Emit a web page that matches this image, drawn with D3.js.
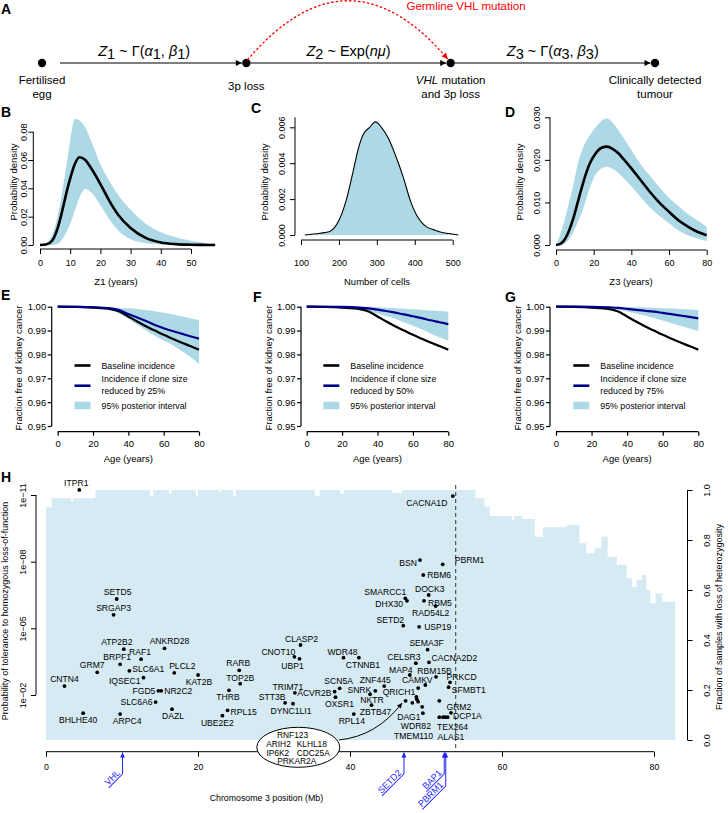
<!DOCTYPE html>
<html><head><meta charset="utf-8">
<script src="https://cdn.jsdelivr.net/npm/d3@7/dist/d3.min.js"></script>
<style>html,body{margin:0;padding:0;background:#fff;}svg{display:block;}</style>
</head><body>
<svg id="chart" width="728" height="813" xmlns="http://www.w3.org/2000/svg"></svg>
<script>
// ======================= DATA =======================
// Panel A
const stageLabels = [["Fertilised","egg"],["3p loss"],["VHL mutation","and 3p loss"],["Clinically detected","tumour"]];
const transitionLabels = [
  [["Z",1,0],["1",0,1],[" ~ Γ(",0,0],["α",1,0],["1",0,1],[", ",0,0],["β",1,0],["1",0,1],[")",0,0]],
  [["Z",1,0],["2",0,1],[" ~ Exp(",0,0],["nμ",1,0],[")",0,0]],
  [["Z",1,0],["3",0,1],[" ~ Γ(",0,0],["α",1,0],["3",0,1],[", ",0,0],["β",1,0],["3",0,1],[")",0,0]]
];
const germlineLabel = "Germline VHL mutation";

// Panel B : Z1 density
const bZ1Years = [0,2,4,6,7,8,9,10,11.5,13,15,17,20,23,26,30,35,40,45,50,55,58];
const bMean  = [0,0.0003,0.003,0.013,0.021,0.030,0.039,0.047,0.057,0.062,0.060,0.054,0.043,0.031,0.021,0.012,0.005,0.0018,0.0006,0.0002,0.00005,0];
const bUpper = [0,0.001,0.007,0.022,0.033,0.046,0.060,0.074,0.089,0.088,0.083,0.073,0.057,0.045,0.035,0.025,0.015,0.009,0.0055,0.003,0.0015,0.001];
const bLower = [0,0,0,0.001,0.003,0.006,0.010,0.015,0.024,0.033,0.0395,0.037,0.028,0.018,0.010,0.004,0.0012,0.0003,0.0001,0,0,0];
const bTicksX = [0,10,20,30,40,50];
const bTicksY = [0,0.02,0.04,0.06,0.08];

// Panel C : number of cells density
const cCells   = [110,150,176,202,220,237,251,264,281,296,312,330,348,370,387,405,418,431,449,470,490,515];
const cDensity = [0,0.0001,0.0002,0.0009,0.002,0.0035,0.0048,0.0056,0.0060,0.0063,0.0060,0.0054,0.0045,0.0032,0.0020,0.0011,0.0007,0.00045,0.0003,0.00015,0.00008,0];
const cTicksX = [100,200,300,400,500];
const cTicksY = [0,0.002,0.004,0.006];

// Panel D : Z3 density
const dZ3Years = [0,2,4,6,9,12,15,18,21,24,27,30,33,36,40,45,50,55,60,65,70,75,80];
const dMean  = [0,0.0002,0.0009,0.0024,0.006,0.0108,0.0155,0.0192,0.0215,0.0228,0.0231,0.0226,0.0216,0.0201,0.018,0.0152,0.0124,0.0099,0.0078,0.0058,0.0043,0.0031,0.0023];
const dUpper = [0,0.0022,0.005,0.0083,0.0138,0.0198,0.0235,0.0258,0.0276,0.0291,0.0297,0.0288,0.0271,0.0251,0.0223,0.0189,0.0162,0.0135,0.0111,0.0091,0.0073,0.0058,0.0043];
const dLower = [0,0,0.0002,0.0009,0.0029,0.0058,0.0093,0.0135,0.0165,0.018,0.0184,0.0179,0.017,0.0157,0.0138,0.0112,0.0088,0.0068,0.0051,0.0034,0.0023,0.0015,0.0009];
const dTicksX = [0,20,40,60,80];
const dTicksY = [0,0.01,0.02,0.03];

// Panels E-G : fraction free of kidney cancer
const ageYears     = [0,10,20,30,35,40,45,50,55,60,65,70,75,80];
const baselineFree = [1,0.9999,0.9996,0.999,0.998,0.9959,0.9938,0.9918,0.99,0.9882,0.9866,0.985,0.9835,0.982];
const eReduced = [1,0.99995,0.9998,0.9993,0.9985,0.9969,0.9955,0.994,0.9923,0.991,0.9898,0.9887,0.9876,0.9866];
const eUpper   = [1,1,0.99995,0.9997,0.9995,0.9993,0.999,0.9986,0.9981,0.9975,0.9968,0.996,0.9952,0.9944];
const eLower   = [1,0.99995,0.9995,0.9985,0.997,0.995,0.9925,0.990,0.9878,0.9858,0.984,0.9815,0.979,0.976];
const fReduced = [1,0.99998,0.9999,0.9996,0.9993,0.9988,0.9982,0.9975,0.9968,0.996,0.9952,0.9943,0.9935,0.9927];
const fUpper   = [1,1,1,0.99995,0.9999,0.9998,0.9996,0.9994,0.9991,0.9989,0.9986,0.9984,0.9982,0.9979];
const fLower   = [1,0.99998,0.9997,0.999,0.998,0.997,0.996,0.995,0.9935,0.992,0.9905,0.9888,0.9872,0.9857];
const gReduced = [1,0.99999,0.99995,0.9997,0.9995,0.9991,0.9987,0.9983,0.9979,0.9974,0.9969,0.9963,0.9957,0.9951];
const gUpper   = [1,1,1,1,0.99995,0.9999,0.9998,0.9997,0.9996,0.9994,0.9992,0.999,0.9988,0.9986];
const gLower   = [1,0.99999,0.9998,0.9994,0.9988,0.998,0.9972,0.9963,0.9953,0.9942,0.9931,0.992,0.9909,0.9898];
const reductionLabels = ["25%","50%","75%"];
const ageTicks = [0,20,40,60,80];
const freeTicks = [0.95,0.96,0.97,0.98,0.99,1.00];

// Panel H : LOH fraction along chr3 (step starts, Mb) and tolerance probabilities
const lohStartMb = [0,0.75,3.3,3.6,6.5,13.7,14.1,16.2,16.5,19.7,20.0,22.8,23.0,24.6,25.0,35.4,36.0,38.7,39.2,45.5,46.8,56.5,57.7,58.4,61.3,61.6,62.7,64.3,65.4,68.5,70.2,71.1,72.2,73.1,73.9,75.1,76.4,77.1,77.7,78.4,79.0,79.5,80.2,81.1];
const lohFraction = [0.931,0.967,0.955,0.967,1.0,0.975,1.0,0.985,1.0,0.975,1.0,0.99,1.0,0.975,1.0,0.975,1.0,0.985,1.0,0.988,1.0,0.967,0.933,0.896,0.88,0.896,0.884,0.813,0.851,0.86,0.787,0.747,0.767,0.813,0.733,0.70,0.647,0.613,0.64,0.66,0.60,0.547,0.587,0.553];
const lohEndMb = 82.8;
const boundaryMb = 53.9;

const geneNames = ["ITPR1","CNTN4","BHLHE40","GRM7","SRGAP3","SETD5","BRPF1","ARPC4","ATP2B2","SLC6A1","RAF1","IQSEC1","SLC6A6","FGD5","NR2C2","ANKRD28","DAZL","PLCL2","KAT2B","UBE2E2","RPL15","THRB","RARB","TOP2B","STT3B","DYNC1LI1","CNOT10","TRIM71","UBP1","CLASP2","ACVR2B","OXSR1","SCN5A","WDR48","RPL14","CTNNB1","NKTR","ZBTB47","SNRK","ZNF445","SETD2","SMARCC1","DHX30","MAP4","CELSR3","QRICH1","USP19","BSN","DAG1","RBM6","RBM5","CAMKV","SEMA3F","DOCK3","CACNA2D2","RAD54L2","RBM15B","GRM2","WDR82","PBRM1","TEX264","TMEM110","ALAS1","SFMBT1","PRKCD","DCP1A","CACNA1D"];
const geneMb = [4.38,2.43,4.89,6.74,8.89,9.30,9.75,9.75,10.24,10.97,12.51,12.83,14.42,14.79,15.16,15.59,16.58,16.88,20.01,23.21,23.89,24.08,25.43,25.55,31.46,32.50,32.68,32.75,33.36,33.49,37.97,38.09,38.64,39.14,40.50,41.17,42.64,42.83,43.33,44.50,47.01,47.28,47.50,47.87,48.67,48.97,49.10,49.21,49.59,49.64,49.74,49.91,50.21,50.36,50.39,51.28,51.32,51.75,51.75,52.20,52.24,52.50,52.84,52.97,53.16,53.29,53.53];
const geneLog10P = [-11.23,-2.40,-1.18,-3.02,-5.61,-6.32,-3.38,-1.14,-4.06,-3.09,-3.61,-2.78,-1.68,-2.19,-2.19,-4.10,-1.36,-3.00,-2.90,-1.07,-1.31,-2.21,-3.11,-2.51,-1.65,-1.61,-3.72,-2.10,-3.63,-4.25,-2.15,-1.90,-2.30,-3.68,-1.14,-3.68,-2.03,-1.54,-2.19,-2.40,-5.12,-6.35,-6.24,-2.90,-3.43,-2.31,-5.07,-8.07,-1.18,-7.40,-6.24,-2.45,-4.04,-6.50,-3.47,-6.00,-2.82,-1.74,-1.00,-7.88,-1.00,-1.00,-1.00,-2.35,-2.57,-1.20,-10.95];
const clusterNames = ["KLHL18","CDC25A","IP6K2","PRKAR2A","ARIH2","RNF123"];
const clusterMb = [47.32,48.2,48.73,48.79,48.96,49.5];
const clusterLog10P = [-1.74,-1.65,-1.92,-1.81,-1.70,-1.47];
const driverGenes = ["VHL","SETD2","BAP1","PBRM1"];
const driverMb = [10.07,47.1,52.4,52.6];
const chrTicks = [0,20,40,60,80];
const tolTicks = [1e-11,1e-8,1e-5,1e-2];
const lohTicks = [0,0.2,0.4,0.6,0.8,1.0];

// ---- layout-only: label offsets (dx, dy, anchor) for gene names ----
const labelPlace = {ITPR1:[-3,-7,"m"],CNTN4:[0,-7,"m"],BHLHE40:[-5,7,"m"],GRM7:[-5,-7,"m"],SRGAP3:[0,-7,"m"],SETD5:[1,-7,"m"],BRPF1:[-3,-7,"m"],ARPC4:[7,7,"m"],ATP2B2:[-7,-7,"m"],SLC6A1:[3,-2,"s"],RAF1:[-1,-7,"m"],IQSEC1:[-3,3,"e"],SLC6A6:[-3,0,"e"],FGD5:[-3,0,"e"],NR2C2:[3,0,"s"],ANKRD28:[5,-7,"m"],DAZL:[1,7,"m"],PLCL2:[8,-7,"m"],KAT2B:[1,7,"m"],UBE2E2:[-5,7,"m"],RPL15:[3,2,"s"],THRB:[-1,7,"m"],RARB:[-1,-7,"m"],TOP2B:[0,-6,"m"],STT3B:[-13,-6,"m"],DYNC1LI1:[-2,7,"m"],CNOT10:[-16,-5,"m"],TRIM71:[-7,-6,"m"],UBP1:[-7,7,"m"],CLASP2:[1,-6,"m"],ACVR2B:[-3,1,"e"],OXSR1:[4,7,"m"],SCN5A:[-1,-7,"m"],WDR48:[-1,-6,"m"],RPL14:[-2,7,"m"],CTNNB1:[4,7,"m"],NKTR:[2,6,"m"],ZBTB47:[4,7,"m"],SNRK:[-4,-1,"e"],ZNF445:[-9,-6,"m"],SETD2:[-13,-6,"m"],SMARCC1:[-20,-6,"m"],DHX30:[-4,3,"e"],MAP4:[-9,-5,"m"],CELSR3:[-12,-6,"m"],QRICH1:[-3,4,"e"],USP19:[5,0,"s"],BSN:[-3,3,"e"],DAG1:[-14,4,"m"],RBM6:[4,0,"s"],RBM5:[4,2,"s"],CAMKV:[-8,-5,"m"],SEMA3F:[-1,-7,"m"],DOCK3:[1,-6,"m"],CACNA2D2:[2.5,-4,"s"],RAD54L2:[-5,7,"m"],RBM15B:[-1.5,-6,"m"],GRM2:[19.6,6,"m"],WDR82:[-23.4,8.6,"m"],PBRM1:[12,-4,"s"],TEX264:[9.5,9.8,"m"],TMEM110:[-31.5,18.6,"m"],ALAS1:[3.4,19.6,"m"],SFMBT1:[3.3,3,"s"],PRKCD:[11.6,-5,"m"],DCP1A:[2,3.6,"s"],CACNA1D:[-26,7,"m"]};

// ======================= DRAWING =======================
const FONT = "'Liberation Sans', Arial, Helvetica, sans-serif";
const BAND = "#add8e6", NAVY = "#00008b", BG = "#d6eaf3", BLUE = "#2323ff";
const svg = d3.select("#chart").attr("font-family", FONT);
svg.append("rect").attr("width",728).attr("height",813).attr("fill","#fff");
const defs = svg.append("defs");
function marker(id,color,w,h){
  defs.append("marker").attr("id",id).attr("viewBox","0 0 10 10").attr("refX",10).attr("refY",5)
    .attr("markerWidth",w).attr("markerHeight",h).attr("markerUnits","userSpaceOnUse").attr("orient","auto")
    .append("path").attr("d","M0,0L10,5L0,10z").attr("fill",color);
}
marker("ahK","#000",8,6); marker("ahR","#f00",8,6); marker("ahB",BLUE,6,5); marker("ahK2","#000",7,5);

function panelLabel(t,x,y){ svg.append("text").attr("x",x).attr("y",y).attr("font-size",14).attr("font-weight","bold").text(t); }
function styleAxis(a,fs){ a.attr("font-family",FONT).attr("font-size",fs); a.selectAll("text").attr("fill","#000"); a.selectAll("line").attr("stroke","#000"); }
function rAxisBottom(scale,ticks,y,fmt,labelY,fs,w){
  const a = svg.append("g").attr("transform",`translate(0,${y})`)
    .call(d3.axisBottom(scale).tickValues(ticks).tickFormat(fmt).tickSize(5).tickSizeOuter(0));
  a.select(".domain").remove();
  a.append("line").attr("x1",scale(ticks[0])).attr("x2",scale(ticks[ticks.length-1])).attr("stroke","#000");
  styleAxis(a,fs||9);
  a.selectAll("line").attr("stroke-width",w||1);
  a.selectAll("text").attr("y",labelY).attr("dy","0.35em");
  return a;
}
function rAxisVert(scale,ticks,x,fmt,off,right,fs){
  const ax = (right?d3.axisRight:d3.axisLeft)(scale).tickValues(ticks).tickFormat(fmt).tickSize(5).tickSizeOuter(0);
  const a = svg.append("g").attr("transform",`translate(${x},0)`).call(ax);
  a.select(".domain").remove();
  a.append("line").attr("y1",scale(ticks[0])).attr("y2",scale(ticks[ticks.length-1])).attr("stroke","#000");
  styleAxis(a,fs||9);
  a.selectAll("text").attr("x",null).attr("dy",null).attr("y",null).attr("text-anchor","middle")
    .attr("transform",`translate(${off},0) rotate(-90)`);
  return a;
}
function vText(t,x,y,fs){ svg.append("text").attr("transform",`translate(${x},${y}) rotate(-90)`).attr("text-anchor","middle").attr("font-size",fs).text(t); }
function hText(t,x,y,fs,anchor){ return svg.append("text").attr("x",x).attr("y",y).attr("text-anchor",anchor||"middle").attr("font-size",fs).text(t); }

// ---------------- Panel A ----------------
panelLabel("A",1,14);
const stageX = d3.scalePoint().domain(d3.range(stageLabels.length)).range([42,655]);
const yA = 63;
for(let i=0;i<stageLabels.length-1;i++){
  svg.append("line").attr("x1",stageX(i)+(i===0?18:4)).attr("x2",stageX(i+1)-4.5).attr("y1",yA).attr("y2",yA)
    .attr("stroke","#000").attr("stroke-width",1.1).attr("marker-end","url(#ahK)");
  const t = svg.append("text").attr("x",(stageX(i)+stageX(i+1))/2).attr("y",56).attr("text-anchor","middle").attr("font-size",14.5);
  let low=false;
  transitionLabels[i].forEach(([s,it,sub])=>{
    const sp = t.append("tspan").text(s);
    if(it) sp.attr("font-style","italic");
    if(sub && !low){ sp.attr("dy",2.8); low=true; }
    else if(!sub && low){ sp.attr("dy",-2.8); low=false; }
  });
}
stageLabels.forEach((lines,i)=>{
  svg.append("circle").attr("cx",stageX(i)).attr("cy",yA).attr("r",4.2).attr("fill","#000");
  const base = lines.length===1 ? [90] : [83.5,97.5];
  lines.forEach((ln,j)=>{
    const t = svg.append("text").attr("x",stageX(i)).attr("y",base[j]).attr("text-anchor","middle").attr("font-size",11.5);
    if(ln.startsWith("VHL ")){ t.append("tspan").attr("font-style","italic").text("VHL"); t.append("tspan").text(ln.slice(3)); }
    else t.text(ln);
  });
});
svg.append("path").attr("d",`M${stageX(1)+1},${yA-3} Q348,-58 ${stageX(2)-3},${yA-4}`)
  .attr("fill","none").attr("stroke","#f00").attr("stroke-width",1.3).attr("stroke-dasharray","2.5,2").attr("marker-end","url(#ahR)");
hText(germlineLabel,466,9.8,11.5).attr("fill","#f00");

// ---------------- Panel B ----------------
panelLabel("B",1,117);
{
  const x = d3.scaleLinear().domain([0,50]).range([40,191]);
  const y = d3.scaleLinear().domain([0,0.08]).range([245,131.7]);
  const idx = d3.range(bZ1Years.length);
  svg.append("path").attr("d",d3.area().x(i=>x(bZ1Years[i])).y0(i=>y(bLower[i])).y1(i=>y(bUpper[i])).curve(d3.curveMonotoneX)(idx)).attr("fill",BAND);
  svg.append("path").attr("d",d3.line().x(i=>x(bZ1Years[i])).y(i=>y(bMean[i])).curve(d3.curveMonotoneX)(idx)).attr("fill","none").attr("stroke","#000").attr("stroke-width",2.6);
  rAxisBottom(x,bTicksX,249,d3.format("d"),14.3,9);
  rAxisVert(y,bTicksY,33.3,d3.format(".2f"),-6.8,false,9);
  hText("Z1 (years)",116,284.5,9.5);
  vText("Probability density",16.5,182,9.5);
}
// ---------------- Panel C ----------------
panelLabel("C",251,113);
{
  const x = d3.scaleLinear().domain([100,500]).range([301,452.7]);
  const y = d3.scaleLinear().domain([0,0.006]).range([235,127.3]);
  const idx = d3.range(cCells.length);
  svg.append("path").attr("d",d3.area().x(i=>x(cCells[i])).y0(y(0)).y1(i=>y(cDensity[i])).curve(d3.curveMonotoneX)(idx)).attr("fill",BAND);
  svg.append("path").attr("d",d3.line().x(i=>x(cCells[i])).y(i=>y(cDensity[i])).curve(d3.curveMonotoneX)(idx)).attr("fill","none").attr("stroke","#000").attr("stroke-width",1.1);
  rAxisBottom(x,cTicksX,240,d3.format("d"),23.3,9);
  const a = rAxisVert(y,cTicksY,295,d3.format(".3f"),-10.1,false,9);
  a.append("line").attr("y1",y(0.006)).attr("y2",117.3).attr("stroke","#000");
  hText("Number of cells",377,284.5,9.5);
  vText("Probability density",268.3,182,9.5);
}
// ---------------- Panel D ----------------
panelLabel("D",505,117);
{
  const x = d3.scaleLinear().domain([0,80]).range([556,706.7]);
  const y = d3.scaleLinear().domain([0,0.03]).range([245,117.3]);
  const idx = d3.range(dZ3Years.length);
  svg.append("path").attr("d",d3.area().x(i=>x(dZ3Years[i])).y0(i=>y(dLower[i])).y1(i=>y(dUpper[i])).curve(d3.curveMonotoneX)(idx)).attr("fill",BAND);
  svg.append("path").attr("d",d3.line().x(i=>x(dZ3Years[i])).y(i=>y(dMean[i])).curve(d3.curveMonotoneX)(idx)).attr("fill","none").attr("stroke","#000").attr("stroke-width",2.6);
  rAxisBottom(x,dTicksX,250,d3.format("d"),13.3,9);
  rAxisVert(y,dTicksY,550,d3.format(".3f"),-10.1,false,9);
  hText("Z3 (years)",631,284.5,9.5);
  vText("Probability density",523,182,9.5);
}
// ---------------- Panels E-G ----------------
function survivalPanel(letter,lx,ly,axisX,x0,x1,reduced,upper,lower,pct,legX){
  panelLabel(letter,lx,ly);
  const x = d3.scaleLinear().domain([0,80]).range([x0,x1]);
  const y = d3.scaleLinear().domain([0.95,1.0]).range([426,306.7]);
  const idx = d3.range(ageYears.length);
  svg.append("path").attr("d",d3.area().x(i=>x(ageYears[i])).y0(i=>y(lower[i])).y1(i=>y(upper[i])).curve(d3.curveMonotoneX)(idx)).attr("fill",BAND);
  svg.append("path").attr("d",d3.line().x(i=>x(ageYears[i])).y(i=>y(baselineFree[i])).curve(d3.curveMonotoneX)(idx)).attr("fill","none").attr("stroke","#000").attr("stroke-width",2.2);
  svg.append("path").attr("d",d3.line().x(i=>x(ageYears[i])).y(i=>y(reduced[i])).curve(d3.curveMonotoneX)(idx)).attr("fill","none").attr("stroke",NAVY).attr("stroke-width",2.2);
  const ay = svg.append("g").attr("transform",`translate(${axisX},0)`)
    .call(d3.axisLeft(y).tickValues(freeTicks).tickFormat(d3.format(".2f")).tickSize(4).tickSizeOuter(0));
  ay.select(".domain").remove();
  ay.append("line").attr("y1",y(0.95)).attr("y2",y(1)).attr("stroke","#000");
  styleAxis(ay,9.5); ay.selectAll("line").attr("stroke-width",1.2);
  ay.selectAll("text").attr("x",-5.5);
  const ax = svg.append("g").attr("transform","translate(0,431.7)")
    .call(d3.axisBottom(x).tickValues(ageTicks).tickFormat(d3.format("d")).tickSize(4).tickSizeOuter(0));
  ax.select(".domain").remove();
  ax.append("line").attr("x1",x(0)).attr("x2",x(80)).attr("stroke","#000");
  styleAxis(ax,9.5); ax.selectAll("line").attr("stroke-width",1.2);
  ax.selectAll("text").attr("y",11.5).attr("dy","0.35em");
  hText("Age (years)",(x0+x1)/2,462,9.5);
  vText("Fraction free of kidney cancer",axisX-29.5,368,9.5);
  svg.append("line").attr("x1",legX).attr("x2",legX+16).attr("y1",365.5).attr("y2",365.5).attr("stroke","#000").attr("stroke-width",2.6);
  svg.append("line").attr("x1",legX).attr("x2",legX+16).attr("y1",385.7).attr("y2",385.7).attr("stroke",NAVY).attr("stroke-width",2.6);
  svg.append("rect").attr("x",legX).attr("y",401.7).attr("width",16).attr("height",7.6).attr("fill",BAND);
  hText("Baseline incidence",legX+27,368.8,8.8,"start");
  hText("Incidence if clone size",legX+27,382.2,8.8,"start");
  hText("reduced by "+pct,legX+27,393.5,8.8,"start");
  hText("95% posterior interval",legX+27,408.5,8.8,"start");
}
survivalPanel("E",1,300,51.7,57.7,199,eReduced,eUpper,eLower,reductionLabels[0],74.5);
survivalPanel("F",253,301.5,301,306.7,448.3,fReduced,fUpper,fLower,reductionLabels[1],323.3);
survivalPanel("G",505,302,550,556,698.3,gReduced,gUpper,gLower,reductionLabels[2],573.3);

// ---------------- Panel H ----------------
panelLabel("H",1,481.5);
{
  const x = d3.scaleLinear().domain([0,80]).range([46,654]);
  const yP = d3.scaleLog().domain([1e-11,1e-2]).range([495,695]);
  const yF = d3.scaleLinear().domain([0,1]).range([740,490]);
  const pts = lohStartMb.map((m,i)=>[m,lohFraction[i]]).concat([[lohEndMb,lohFraction[lohFraction.length-1]]]);
  svg.append("path").attr("d",d3.area().x(d=>x(d[0])).y0(yF(0)).y1(d=>yF(d[1])).curve(d3.curveStepAfter)(pts)).attr("fill",BG);
  svg.append("line").attr("x1",x(boundaryMb)).attr("x2",x(boundaryMb)).attr("y1",485).attr("y2",752)
    .attr("stroke","#555").attr("stroke-width",1.2).attr("stroke-dasharray","4,3");
  const py = lp => yP(Math.pow(10,lp));
  geneNames.forEach((g,i)=>{
    const cx = x(geneMb[i]), cy = py(geneLog10P[i]);
    svg.append("circle").attr("cx",cx).attr("cy",cy).attr("r",1.9).attr("fill","#000");
    const p = labelPlace[g];
    svg.append("text").attr("x",cx+p[0]).attr("y",cy+p[1]).attr("dy","0.35em").attr("font-size",8.6)
      .attr("text-anchor",p[2]==="m"?"middle":p[2]==="s"?"start":"end").text(g);
  });
  clusterNames.forEach((g,i)=>{
    svg.append("circle").attr("cx",x(clusterMb[i])).attr("cy",py(clusterLog10P[i])).attr("r",1.9).attr("fill","#000");
  });
  rAxisVert(yP,tolTicks,36,d=>{const e=Math.round(Math.log10(d)); return "1e"+(e<0?"−":"+")+String(Math.abs(e)).padStart(2,"0");},-9.8,false,9);
  rAxisVert(yF,lohTicks,687.5,d3.format(".1f"),22.7,true,9);
  rAxisBottom(x,chrTicks,751.7,d3.format("d"),15.3,8.8);
  hText("Chromosome 3 position (Mb)",266.4,801,8.8);
  vText("Probability of tolerance to homozygous loss-of-function",8.3,611,9);
  vText("Fraction of samples with loss of heterozygosity",722,617,9);
  const ex = 298.3, ey = 747.3;
  svg.append("path").attr("d",`M339,740 Q377,736 402,703`).attr("fill","none").attr("stroke","#000").attr("stroke-width",1).attr("marker-end","url(#ahK2)");
  svg.append("ellipse").attr("cx",ex).attr("cy",ey).attr("rx",41.5).attr("ry",20).attr("fill","#fff").attr("stroke","#000").attr("stroke-width",1);
  const ellipseText = [["RNF123",-5.7,-11.8],["ARIH2",-19.8,-3.2],["KLHL18",13.5,-3.2],["IP6K2",-20.5,5.4],["CDC25A",14.9,5.4],["PRKAR2A",-1.5,13.9]];
  ellipseText.forEach(([t,dx,dy])=>svg.append("text").attr("x",ex+dx).attr("y",ey+dy).attr("dy","0.35em").attr("text-anchor","middle").attr("font-size",8.4).text(t));
  const drop = [21,21,21,33];
  driverGenes.forEach((g,i)=>{
    const gx = x(driverMb[i]), yEnd = 753+drop[i];
    svg.append("line").attr("x1",gx).attr("x2",gx).attr("y1",yEnd).attr("y2",752.5).attr("stroke",BLUE).attr("stroke-width",1).attr("marker-end","url(#ahB)");
    const gg = svg.append("g").attr("transform",`translate(${gx},${yEnd}) rotate(-45)`);
    const t = gg.append("text").attr("x",-1).attr("y",-1.8).attr("text-anchor","end").attr("font-size",9).attr("fill",BLUE).text(g);
    const len = t.node().getComputedTextLength();
    gg.append("line").attr("x1",0).attr("x2",-len-2).attr("y1",0).attr("y2",0).attr("stroke",BLUE).attr("stroke-width",1);
  });
}
</script>
</body></html>
